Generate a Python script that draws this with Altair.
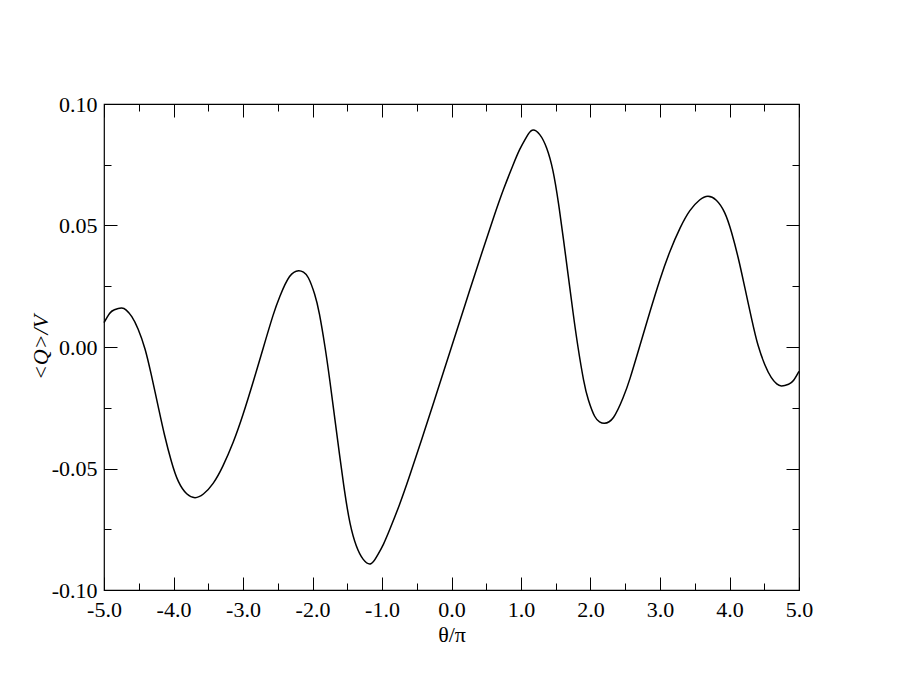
import altair as alt
import pandas as pd

# ---- data (curve is odd: f(-x) = -f(x)) ----
theta_over_pi = [
    -5.00, -4.92, -4.85, -4.75, -4.68, -4.60, -4.51, -4.41,
    -4.32, -4.22, -4.13, -4.03, -3.93, -3.81, -3.69, -3.57,
    -3.43, -3.29, -3.14, -3.00, -2.85, -2.71, -2.57, -2.47,
    -2.33, -2.20, -2.13, -2.06, -1.97, -1.90, -1.82, -1.75,
    -1.68, -1.61, -1.54, -1.46, -1.37, -1.27, -1.16, -1.07,
    -0.98, -0.88, -0.75, -0.60, -0.40, -0.20,
    0.00,
    0.20, 0.40, 0.60, 0.75, 0.88, 0.98, 1.07, 1.16,
    1.27, 1.37, 1.46, 1.54, 1.61, 1.68, 1.75, 1.82,
    1.90, 1.97, 2.06, 2.13, 2.20, 2.33, 2.47, 2.57,
    2.71, 2.85, 3.00, 3.14, 3.29, 3.43, 3.57, 3.69,
    3.81, 3.93, 4.03, 4.13, 4.22, 4.32, 4.41, 4.51,
    4.60, 4.68, 4.75, 4.85, 4.92, 5.00,
]
q_over_v = [
    0.0100, 0.0138, 0.0153, 0.0160, 0.0152, 0.0125, 0.0074, -0.0008,
    -0.0114, -0.0245, -0.0361, -0.0471, -0.0553, -0.0604, -0.0620, -0.0605,
    -0.0561, -0.0490, -0.0391, -0.0278, -0.0140, -0.0005, 0.0128, 0.0208,
    0.0290, 0.0314, 0.0308, 0.0285, 0.0218, 0.0135, 0.0000, -0.0140,
    -0.0293, -0.0445, -0.0590, -0.0725, -0.0818, -0.0874, -0.0892, -0.0860,
    -0.0812, -0.0745, -0.0650, -0.0528, -0.0355, -0.0178,
    0.0000,
    0.0178, 0.0355, 0.0528, 0.0650, 0.0745, 0.0812, 0.0860, 0.0892,
    0.0874, 0.0818, 0.0725, 0.0590, 0.0445, 0.0293, 0.0140, 0.0000,
    -0.0135, -0.0218, -0.0285, -0.0308, -0.0314, -0.0290, -0.0208, -0.0128,
    0.0005, 0.0140, 0.0278, 0.0391, 0.0490, 0.0561, 0.0605, 0.0620,
    0.0604, 0.0553, 0.0471, 0.0361, 0.0245, 0.0114, 0.0008, -0.0074,
    -0.0125, -0.0152, -0.0160, -0.0153, -0.0138, -0.0100,
]
assert len(theta_over_pi) == len(q_over_v)

x_major = [-5, -4, -3, -2, -1, 0, 1, 2, 3, 4, 5]
x_minor = [-4.5, -3.5, -2.5, -1.5, -0.5, 0.5, 1.5, 2.5, 3.5, 4.5]
y_major = [-0.10, -0.05, 0.0, 0.05, 0.10]
y_minor = [-0.075, -0.025, 0.025, 0.075]

df = pd.DataFrame({"theta": theta_over_pi, "q": q_over_v})

W, H = 695, 486
FONT = "Liberation Serif"
LABEL_SIZE = 22
TITLE_SIZE = 22
MAJOR, MINOR = 13, 7

xscale = alt.Scale(domain=[-5, 5], nice=False, zero=False)
yscale = alt.Scale(domain=[-0.1, 0.1], nice=False, zero=False)


def tick_axis(orient, offset, values, size):
    return alt.Axis(
        orient=orient, offset=offset, values=values, labels=False,
        ticks=True, tickSize=size, tickColor="black", tickWidth=1,
        domain=False, grid=False, title=None,
    )


x_label_axis = alt.Axis(
    orient="bottom", values=x_major, ticks=False, tickSize=0, domain=False,
    grid=False, labelPadding=9, labelFont=FONT, labelFontSize=LABEL_SIZE,
    labelColor="black", labelFlush=False, labelOverlap=False,
    labelExpr="replace(format(datum.value, '.1f'), '\u2212', '-')",
    title="θ/π", titleFont=FONT, titleFontSize=TITLE_SIZE,
    titleFontWeight="normal", titleColor="black", titleX=W / 2, titleY=44,
    titleAlign="center", titleBaseline="middle",
)
y_label_axis = alt.Axis(
    orient="left", values=y_major, ticks=False, tickSize=0, domain=False,
    grid=False, labelPadding=7, labelFont=FONT, labelFontSize=LABEL_SIZE,
    labelColor="black", labelFlush=False, labelOverlap=False,
    labelExpr="replace(format(datum.value, '.2f'), '\u2212', '-')",
    title="<Q>/V", titleFont=FONT, titleFontSize=TITLE_SIZE,
    titleFontWeight="normal", titleFontStyle="italic", titleColor="black",
    titleAngle=-90, titleX=-64, titleY=H / 2, titleAlign="center",
    titleBaseline="middle",
)


def layer(xaxis, yaxis, visible):
    mark = alt.Chart(df).mark_line(
        color="black",
        strokeWidth=1.5,
        strokeOpacity=1 if visible else 0,
        interpolate="natural",
    )
    return mark.encode(
        x=alt.X("theta:Q", scale=xscale, axis=xaxis),
        y=alt.Y("q:Q", scale=yscale, axis=yaxis),
    )


layers = [
    layer(x_label_axis, y_label_axis, True),
    layer(tick_axis("top", -H, x_major, MAJOR), tick_axis("right", -W, y_major, MAJOR), False),
    layer(tick_axis("top", -H, x_minor, MINOR), tick_axis("right", -W, y_minor, MINOR), False),
    layer(tick_axis("bottom", -H, x_major, MAJOR), tick_axis("left", -W, y_major, MAJOR), False),
    layer(tick_axis("bottom", -H, x_minor, MINOR), tick_axis("left", -W, y_minor, MINOR), False),
]

chart = (
    alt.layer(*layers)
    .resolve_axis(x="independent", y="independent")
    .properties(
        width=W,
        height=H,
        autosize=alt.AutoSizeParams(type="none"),
        padding={"left": 96, "top": 96, "right": 80, "bottom": 90},
        background="white",
    )
    .configure_view(stroke="black", strokeWidth=1.2)
)

chart.save("out.html", embed_options={"renderer": "svg", "actions": False})
